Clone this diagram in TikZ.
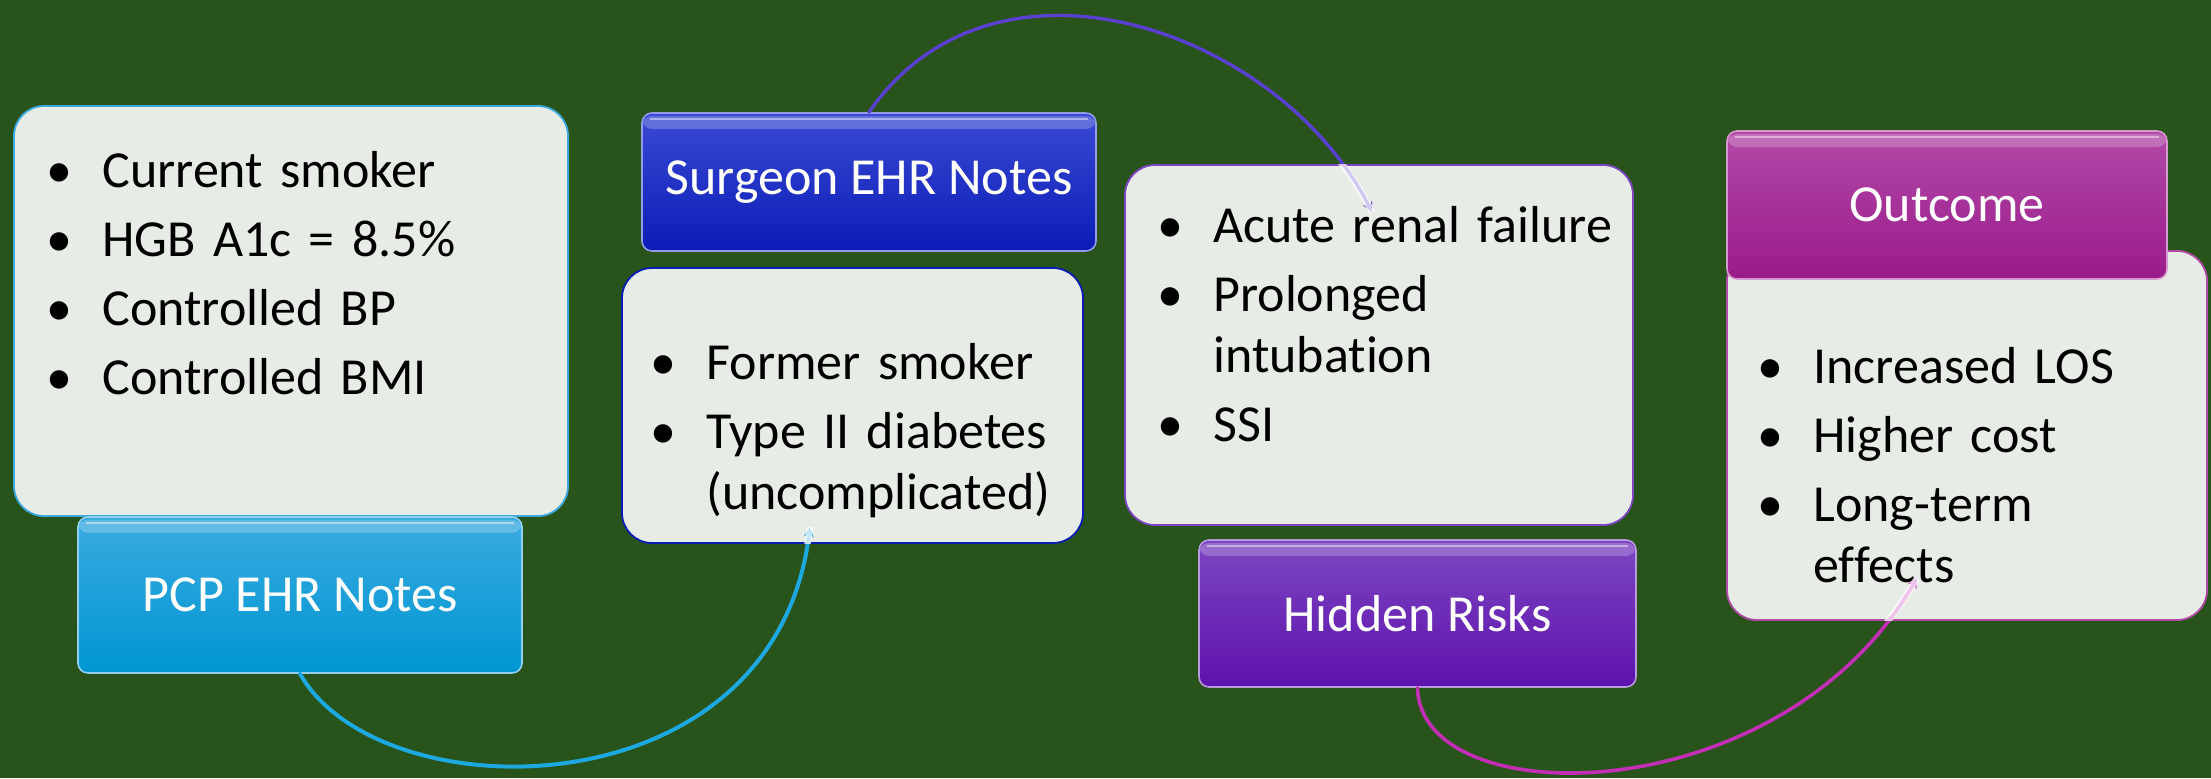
\documentclass[tikz,border=0pt]{standalone}
\usepackage{fontspec}
\setmainfont{Carlito}[Ligatures=NoCommon]
\usetikzlibrary{arrows.meta}
\definecolor{bg}{HTML}{28531A}
\definecolor{boxfill}{HTML}{E8ECE6}
\definecolor{cyanA}{HTML}{3AAAE0}
\definecolor{cyanB}{HTML}{0096D2}
\definecolor{blueA}{HTML}{3A4AD4}
\definecolor{blueB}{HTML}{0A1CB6}
\definecolor{purA}{HTML}{7C46C2}
\definecolor{purB}{HTML}{5E12AC}
\definecolor{magA}{HTML}{B24AA8}
\definecolor{magB}{HTML}{9A1A8A}
\definecolor{arcA}{HTML}{1EA8E0}
\definecolor{arcB}{HTML}{5A40D0}
\definecolor{arcC}{HTML}{C22EB6}
\newcommand{\bl}{\leavevmode\llap{\makebox[0pt][c]{•}\hspace{21.5pt}}}
\begin{document}
\begin{tikzpicture}[x=0.5pt,y=-0.5pt,
  bbox/.style={draw=#1, line width=0.9pt, fill=boxfill, rounded corners=15pt, inner sep=0pt},
  hdr/.style 2 args={top color=#1, bottom color=#2, draw=#1!55!white, line width=0.8pt,
    rounded corners=5pt, inner sep=0pt, text=white, font=\fontsize{26pt}{30pt}\selectfont,
    path picture={\fill[white,opacity=0.22] ([yshift=-1.5pt]path picture bounding box.north west) rectangle ([yshift=-8pt]path picture bounding box.north east);
      \draw[white,opacity=0.45,line width=1.2pt] ([xshift=4pt,yshift=-3pt]path picture bounding box.north west) -- ([xshift=-4pt,yshift=-3pt]path picture bounding box.north east);}},
  btext/.style={anchor=base west, inner sep=0pt, align=left, text=black,
    font=\fontsize{26pt}{30.5pt}\selectfont},
  arc/.style={draw=#1, line width=2pt, line cap=round, -{Stealth[length=5pt,width=5pt]}},
  tail/.style={draw=white, opacity=0.72, line width=3.2pt}
]
\useasboundingbox (0,0) rectangle (2211,778);
\fill[bg] (0,0) rectangle (2211,778);

% bullet boxes
\node[bbox=cyanA, minimum width=277pt, minimum height=205pt] (pbox) at (291,311) {};
\node[bbox=blueB, minimum width=230.5pt, minimum height=137.5pt] (sbox) at (852.5,405.5) {};
\node[bbox=purA, minimum width=254pt, minimum height=180pt] (hbox) at (1379,345) {};
\node[bbox=magA, minimum width=240pt, minimum height=184.5pt] (obox) at (1967,435.5) {};

% headers
\node[hdr={cyanA}{cyanB}, minimum width=222pt, minimum height=78pt] (phdr) at (300,595) {PCP EHR Notes};
\node[hdr={blueA}{blueB}, minimum width=227pt, minimum height=69pt] (shdr) at (869,182) {Surgeon EHR Notes};
\node[hdr={purA}{purB}, minimum width=218.5pt, minimum height=73.5pt] (hhdr) at (1417.5,613.5) {Hidden Risks};
\node[hdr={magA}{magB}, minimum width=220pt, minimum height=74pt] (ohdr) at (1947,205) {Outcome};

% texts
\node[btext, text width=225pt] (ptext) at (102,187) {\setlength{\parskip}{4pt}%
\bl Current smoker\par\bl HGB A1c = 8.5\%\par\bl Controlled BP\par\bl Controlled BMI};
\node[btext, text width=185pt] (stext) at (706,379) {\setlength{\parskip}{4pt}%
\bl Former smoker\par\bl Type II diabetes\newline (uncomplicated)};
\node[btext, text width=205pt] (htext) at (1213,242) {\setlength{\parskip}{4pt}%
\bl Acute renal failure\par\bl Prolonged\newline intubation\par\bl SSI};
\node[btext, text width=190pt] (otext) at (1813,383) {\setlength{\parskip}{4pt}%
\bl Increased LOS\par\bl Higher cost\par\bl Long-term\newline effects};

% connector end points
\coordinate (tipA) at (810,527);
\coordinate (tipB) at (1372,212);
\coordinate (tipC) at (1917,578);
\def\pathA{(phdr.south) .. controls (380,815) and (775,815) .. (tipA)}
\def\pathB{(shdr.north) .. controls (995,-70) and (1280,30) .. (tipB)}
\def\pathC{(hhdr.south) .. controls (1420,815) and (1780,815) .. (tipC)}

\draw[arc=arcA] \pathA;
\draw[arc=arcB, line width=1.7pt] \pathB;
\draw[arc=arcC, line width=1.8pt] \pathC;

% faded tails inside the target boxes
\begin{scope}
\clip (sbox.south west) rectangle (sbox.north east);
\draw[tail] \pathA;
\end{scope}
\begin{scope}
\clip (hbox.south west) rectangle (hbox.north east);
\draw[tail] \pathB;
\end{scope}
\begin{scope}
\clip (obox.south west) rectangle (obox.north east);
\draw[tail] \pathC;
\end{scope}
\end{tikzpicture}
\end{document}
